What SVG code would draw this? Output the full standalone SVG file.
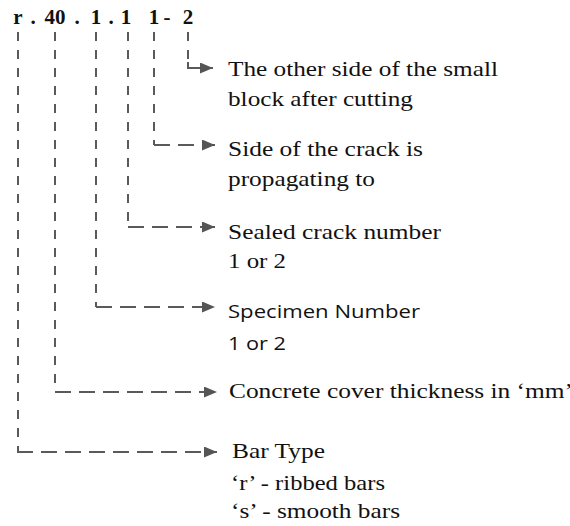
<svg xmlns="http://www.w3.org/2000/svg" width="570" height="526" viewBox="0 0 570 526">
<style>
.v{stroke:#5a5a5a;stroke-width:2;fill:none;stroke-dasharray:9 9}
.h{stroke:#5a5a5a;stroke-width:2;fill:none;stroke-dasharray:16 8}
.solid{stroke:#5a5a5a;stroke-width:2;fill:none}
</style>
<defs>
<marker id="arr" markerWidth="13" markerHeight="11" refX="13" refY="5.5" orient="auto" markerUnits="userSpaceOnUse">
<path d="M0,0 L13,5.5 L0,11 Z" fill="#555"/>
</marker>
</defs>
<rect width="570" height="526" fill="#fff"/>
<g id="code" font-family="Liberation Serif, Times New Roman, serif" font-weight="bold" font-size="21" fill="#111" text-anchor="middle">
<text y="24"><tspan x="18">r</tspan><tspan x="33">.</tspan><tspan x="55">40</tspan><tspan x="77">.</tspan><tspan x="96">1</tspan><tspan x="111">.</tspan><tspan x="126">1</tspan><tspan x="154">1</tspan><tspan x="167">-</tspan><tspan x="188">2</tspan></text>
</g>
<g id="connectors">
<line class="v" x1="188" y1="32" x2="188" y2="68"/>
<path class="solid" d="M188,62 V68 H213" marker-end="url(#arr)"/>
<line class="v" x1="154" y1="32" x2="154" y2="145"/>
<path class="h" d="M154,145 H215" marker-end="url(#arr)"/>
<line class="v" x1="128" y1="32" x2="128" y2="227"/>
<path class="h" d="M128,227 H215" marker-end="url(#arr)"/>
<line class="v" x1="96" y1="32" x2="96" y2="307"/>
<path class="h" d="M96,307 H215" marker-end="url(#arr)"/>
<line class="v" x1="55" y1="32" x2="55" y2="392"/>
<path class="h" d="M55,392 H217" marker-end="url(#arr)"/>
<line class="v" x1="18" y1="32" x2="18" y2="452"/>
<path class="h" d="M17,452 H217" marker-end="url(#arr)"/>
</g>
<g font-family="Liberation Serif, Times New Roman, serif" font-size="22" fill="#111">
<g id="other-side">
<text x="228" y="76" textLength="270" lengthAdjust="spacingAndGlyphs">The other side of the small</text>
<text x="228" y="106" textLength="185" lengthAdjust="spacingAndGlyphs">block after cutting</text>
</g>
<g id="crack-side">
<text x="228" y="156" textLength="195" lengthAdjust="spacingAndGlyphs">Side of the crack is</text>
<text x="228" y="186" textLength="147" lengthAdjust="spacingAndGlyphs">propagating to</text>
</g>
<g id="sealed-crack">
<text x="228" y="239" textLength="213" lengthAdjust="spacingAndGlyphs">Sealed crack number</text>
<text x="228" y="268" textLength="58" lengthAdjust="spacingAndGlyphs">1 or 2</text>
</g>
<g id="cover">
<text x="229" y="398" textLength="344" lengthAdjust="spacingAndGlyphs">Concrete cover thickness in ‘mm’</text>
</g>
<g id="bar-type">
<text x="232" y="458" textLength="93" lengthAdjust="spacingAndGlyphs">Bar Type</text>
<text x="231" y="490" textLength="154" lengthAdjust="spacingAndGlyphs">‘r’ - ribbed bars</text>
<text x="231" y="518" textLength="169" lengthAdjust="spacingAndGlyphs">‘s’ - smooth bars</text>
</g>
</g>
<g id="specimen" font-family="Open Sans, Liberation Sans, Arial, sans-serif" font-size="19" fill="#111">
<text x="228" y="318" textLength="192" lengthAdjust="spacingAndGlyphs">Specimen Number</text>
<text x="228" y="350" textLength="58" lengthAdjust="spacingAndGlyphs">1 or 2</text>
</g>
</svg>
